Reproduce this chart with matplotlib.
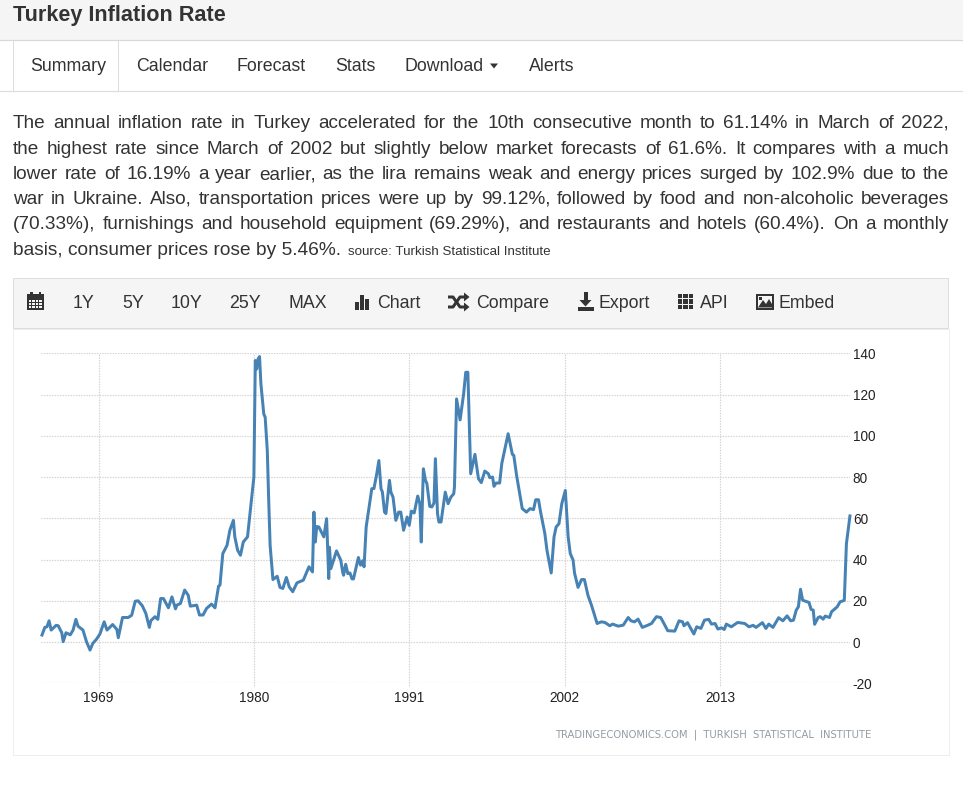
import matplotlib
matplotlib.use("Agg")
import matplotlib.pyplot as plt
from matplotlib.patches import Rectangle, Polygon
from matplotlib.lines import Line2D

plt.rcParams['font.family'] = ['Liberation Sans', 'DejaVu Sans']
plt.rcParams['axes.unicode_minus'] = False

# ---------- data ----------
years = [1965.0,1965.2,1965.35,1965.5,1965.65,1966.0,1966.15,1966.4,1966.5,1966.7,1967.0,1967.2,1967.4,1967.55,1967.9,1968.15,1968.4,1968.6,1968.85,1969.1,1969.4,1969.6,1970.0,1970.3,1970.4,1970.7,1971.1,1971.35,1971.6,1971.8,1972.1,1972.35,1972.6,1972.7,1973.0,1973.2,1973.4,1973.6,1973.95,1974.2,1974.45,1974.55,1974.8,1975.1,1975.35,1975.5,1975.95,1976.15,1976.4,1976.65,1977.0,1977.25,1977.5,1977.6,1977.8,1978.1,1978.3,1978.55,1978.65,1978.85,1979.05,1979.25,1979.55,1979.8,1980.0,1980.1,1980.2,1980.3,1980.4,1980.5,1980.7,1980.8,1980.95,1981.05,1981.15,1981.35,1981.65,1981.85,1982.05,1982.3,1982.5,1982.75,1983.05,1983.5,1983.9,1984.15,1984.25,1984.35,1984.45,1984.6,1984.95,1985.15,1985.3,1985.35,1985.45,1985.85,1986.15,1986.3,1986.35,1986.5,1986.65,1986.8,1986.95,1987.05,1987.4,1987.55,1987.7,1987.8,1987.95,1988.25,1988.35,1988.5,1988.7,1988.85,1989.0,1989.1,1989.25,1989.35,1989.6,1989.7,1989.85,1990.05,1990.25,1990.4,1990.6,1990.85,1991.0,1991.15,1991.35,1991.6,1991.75,1991.85,1992.0,1992.15,1992.25,1992.45,1992.6,1992.75,1992.85,1993.0,1993.1,1993.25,1993.55,1993.75,1993.95,1994.15,1994.2,1994.35,1994.6,1994.85,1995.0,1995.15,1995.35,1995.65,1995.9,1996.1,1996.35,1996.6,1996.7,1996.9,1997.0,1997.15,1997.4,1997.55,1998.0,1998.3,1998.4,1998.6,1999.0,1999.3,1999.55,1999.8,1999.95,2000.15,2000.3,2000.6,2000.75,2001.05,2001.25,2001.4,2001.6,2001.8,2002.05,2002.25,2002.4,2002.6,2002.7,2002.95,2003.2,2003.4,2003.65,2003.9,2004.3,2004.6,2004.85,2005.2,2005.4,2005.8,2006.15,2006.5,2006.7,2006.95,2007.2,2007.5,2007.9,2008.15,2008.5,2008.8,2009.0,2009.3,2009.8,2010.1,2010.35,2010.45,2010.7,2011.15,2011.35,2011.65,2011.9,2012.2,2012.4,2012.65,2012.85,2013.1,2013.3,2013.45,2013.8,2014.25,2014.75,2015.05,2015.35,2015.55,2016.0,2016.25,2016.45,2016.75,2017.15,2017.45,2017.75,2018.0,2018.2,2018.4,2018.55,2018.7,2018.85,2019.3,2019.45,2019.6,2019.7,2019.95,2020.1,2020.3,2020.45,2020.75,2020.9,2021.3,2021.5,2021.8,2021.95,2022.2]
rates = [3.4,7.1,7.4,10.3,5.8,8.1,7.9,4.5,0.2,4.5,3.5,5.8,11,7.7,5.8,0.2,-3.9,-0.6,1.3,3.9,9.8,5.8,8.5,6.1,2.1,11.9,11.9,13,19.8,20,17.6,13.9,7.1,10.3,12.3,11,21.1,21.1,16.6,21.9,16.1,17.9,18.7,25.2,22.7,17.4,17.9,13.1,13.1,16.3,18.4,16.6,27.1,27.6,42.9,46.9,54.2,59,51,44.5,42.1,48.5,51,67.1,80,136.5,132.4,137.3,138.4,125,110.6,109,92.9,68.7,46.9,30.3,31.9,26.5,26,31.3,26.8,24.4,28.7,30,36.5,34,63,48.5,56,55.8,51,59.8,30.8,46,35.6,44.2,39.7,33.5,32.4,37.7,33.2,33.5,30.6,30.6,41,37.3,39.4,36.5,55.8,69.5,74.4,74.4,81.6,88,74.4,72.7,63,62.3,78.4,72.7,70.3,59,63,63,54.2,60.6,56.6,63.5,62.6,70.8,67.1,48.5,84,78.4,76.8,65.8,65.5,67.4,88.9,62.3,58.2,58.2,72.7,67.1,70.3,71.9,75.2,117.9,107.7,120.3,130.8,130.8,81.6,91,79.2,77.3,82.9,81.6,79.7,80,75.5,77.1,77.1,86.5,101,91,90.5,80.8,64.7,63,64.7,64.2,69,69,63,52.6,44.5,33.5,51,55.8,57.4,67.1,73.5,51,42.9,39.7,33.5,26.5,30.3,30.3,22.7,17.9,9,9.8,9.5,7.9,8.7,7.7,8.2,11.9,10.3,9.8,11.1,7.1,8.2,9,12.3,11.9,9.4,5.5,5.3,10.3,9.8,7.9,9.4,3.9,7.4,6.6,10.6,11,8.7,9,6.3,6.9,6.1,8.7,7.4,9.5,9,7.4,8.1,7.1,9.4,6.6,8.7,7.1,11.8,10.3,12.7,10.3,10.6,15.5,17.1,25.6,20.3,19.2,15.8,15.5,8.6,11.9,12.3,11.1,12.6,11.9,14.7,17.1,19.5,20.2,47.7,61.14]
x_ticks = [1969, 1980, 1991, 2002, 2013]
y_ticks = [-20, 0, 20, 40, 60, 80, 100, 120, 140]

page_title = "Turkey Inflation Rate"
nav_tabs = ["Summary", "Calendar", "Forecast", "Stats", "Download", "Alerts"]
body_lines = [
    "The annual inflation rate in Turkey accelerated for the 10th consecutive month to 61.14% in March of 2022,",
    "the highest rate since March of 2002 but slightly below market forecasts of 61.6%. It compares with a much",
    "lower rate of 16.19% a year earlier, as the lira remains weak and energy prices surged by 102.9% due to the",
    "war in Ukraine. Also, transportation prices were up by 99.12%, followed by food and non-alcoholic beverages",
    "(70.33%), furnishings and household equipment (69.29%), and restaurants and hotels (60.4%). On a monthly",
]
last_line = "basis, consumer prices rose by 5.46%."
source_line = "source: Turkish Statistical Institute"
tool_labels = ["1Y", "5Y", "10Y", "25Y", "MAX", "Chart", "Compare", "Export", "API", "Embed"]
credit = "TRADINGECONOMICS.COM  |  TURKISH  STATISTICAL  INSTITUTE"

# ---------- page ----------
W, H = 963, 793
fig = plt.figure(figsize=(W/100, H/100), dpi=100, facecolor="white")
pg = fig.add_axes([0, 0, 1, 1], zorder=0)
pg.set_xlim(0, W); pg.set_ylim(H, 0); pg.axis("off")
px = 72/100  # points per pixel
TXT = "#333333"

def rect(x, y, w, h, fc="none", ec="none", lw=1.0):
    pg.add_patch(Rectangle((x, y), w, h, facecolor=fc, edgecolor=ec, linewidth=lw*px))

def hline(x0, x1, y, c="#dddddd", lw=1.0):
    pg.add_line(Line2D([x0, x1], [y, y], color=c, lw=lw*px))

def vline(x, y0, y1, c="#dddddd", lw=1.0):
    pg.add_line(Line2D([x, x], [y0, y1], color=c, lw=lw*px))

def put(x, y, s, size, **kw):
    kw.setdefault("color", TXT)
    return pg.text(x, y, s, fontsize=size*px, va="baseline", ha="left", **kw)

renderer = fig.canvas.get_renderer()
def width(s, size):
    t = put(0, 0, s, size)
    w = t.get_window_extent(renderer).width
    t.remove()
    return w

def justified(y, s, size, x0, x1):
    words = s.split(" ")
    ws = [width(w, size) for w in words]
    gap = (x1 - x0 - sum(ws)) / (len(words) - 1)
    x = x0
    for w, wd in zip(words, ws):
        put(x, y, w, size)
        x += wd + gap

# header
rect(0, 0, W, 40, fc="#f5f5f5")
hline(0, W, 40, "#d8d8d8", 1.2)
put(13, 21, page_title, 21.7, fontweight="bold")

# tabs
hline(0, W, 91, "#dddddd", 1.2)
rect(13, 41, 105, 50.5, fc="white")
vline(12.5, 41, 91, "#dddddd"); vline(118, 41, 91, "#dddddd")
nav_x = [30, 136, 237, 335, 405, 529]
for x, s in zip(nav_x, nav_tabs):
    put(x, 71, s, 17.8)
pg.add_patch(Polygon([(490, 63.5), (498, 63.5), (494, 68.5)], closed=True, fc=TXT, ec="none"))

# body
body_y = [128, 154, 179, 204, 229]
for y, s in zip(body_y, body_lines):
    justified(y, s, 19.0, 13, 949)
put(13, 255, last_line, 19.15)
put(348, 255, source_line, 13.4)

# chart frame & toolbar
rect(12.5, 328.5, 936.5, 426, ec="#eeeeee")
rect(13, 278, 935, 50, fc="#f5f5f5", ec="#dddddd")
tool_x = [73, 122, 171, 229, 288, 377, 476, 599, 700, 779]
for x, s in zip(tool_x, tool_labels):
    put(x, 308, s, 17.8)

# toolbar icons
# calendar
rect(27, 294, 17, 15.5, fc=TXT)
rect(30, 291.5, 2.5, 3, fc=TXT); rect(38.5, 291.5, 2.5, 3, fc=TXT)
for r in range(3):
    for c in range(4):
        rect(29 + c*3.4, 300 + r*3, 2.3, 1.6, fc="#f5f5f5")
# bars
rect(355, 302, 3.5, 7.5, fc=TXT); rect(360, 295, 3.5, 14.5, fc=TXT); rect(365, 299, 3.5, 10.5, fc=TXT)
# shuffle
pg.plot([448, 453, 460, 465], [297, 297, 307, 307], color=TXT, lw=3*px, solid_capstyle="butt")
pg.plot([448, 453, 460, 465], [307, 307, 297, 297], color=TXT, lw=3*px, solid_capstyle="butt")
pg.add_patch(Polygon([(464, 292.5), (469.5, 297), (464, 301.5)], fc=TXT, ec="none"))
pg.add_patch(Polygon([(464, 302.5), (469.5, 307), (464, 311.5)], fc=TXT, ec="none"))
# export
rect(583.5, 292, 4, 9, fc=TXT)
pg.add_patch(Polygon([(579.5, 300), (591.5, 300), (585.5, 306.5)], fc=TXT, ec="none"))
rect(578, 307, 16, 3.5, fc=TXT)
# grid
for r in range(3):
    for c in range(3):
        rect(678 + c*5.4, 294 + r*5.4, 4.2, 4.2, fc=TXT)
# image
rect(756, 294, 18, 15.5, fc=TXT)
rect(758, 296, 14, 11.5, fc="#f5f5f5")
pg.add_patch(Polygon([(758, 307.5), (763, 300), (766, 304), (769, 299), (772, 304), (772, 307.5)], fc=TXT, ec="none"))
rect(759, 297, 3, 3, fc=TXT)

# credit
put(555, 738, credit, 10.0, color="#949ca4", fontfamily="DejaVu Sans")

# ---------- chart ----------
L, R, T, B = 41, 850, 353.3, 683.3
ax = fig.add_axes([L/W, 1 - B/H, (R-L)/W, (B-T)/H], zorder=1)
ax.patch.set_alpha(0)
yr_per_px = 11 / ((720 - 98.5) / 4)
ax.set_xlim(1969 - (98.5 - L)*yr_per_px, 1969 + (R - 98.5)*yr_per_px)
ax.set_ylim(-20, 140)
for s in ax.spines.values():
    s.set_visible(False)
ax.yaxis.tick_right()
ax.set_xticks(x_ticks); ax.set_xticklabels([str(v) for v in x_ticks])
ax.set_yticks(y_ticks)
ax.tick_params(axis="both", labelsize=13.6*px, labelcolor="#222222")
ax.tick_params(axis="x", length=3*px, width=1*px, color="#dddddd", pad=3.5, direction="out")
ax.tick_params(axis="y", length=0, pad=2)
ax.grid(True, color="#d4d4d4", lw=1.2*px, linestyle=(0, (1.2, 1.0)))
ax.set_axisbelow(True)
ax.plot(years, rates, color="#4682b4", lw=3.0*px, solid_joinstyle="round", clip_on=False)

fig.savefig("out.png", dpi=100, facecolor="white")
